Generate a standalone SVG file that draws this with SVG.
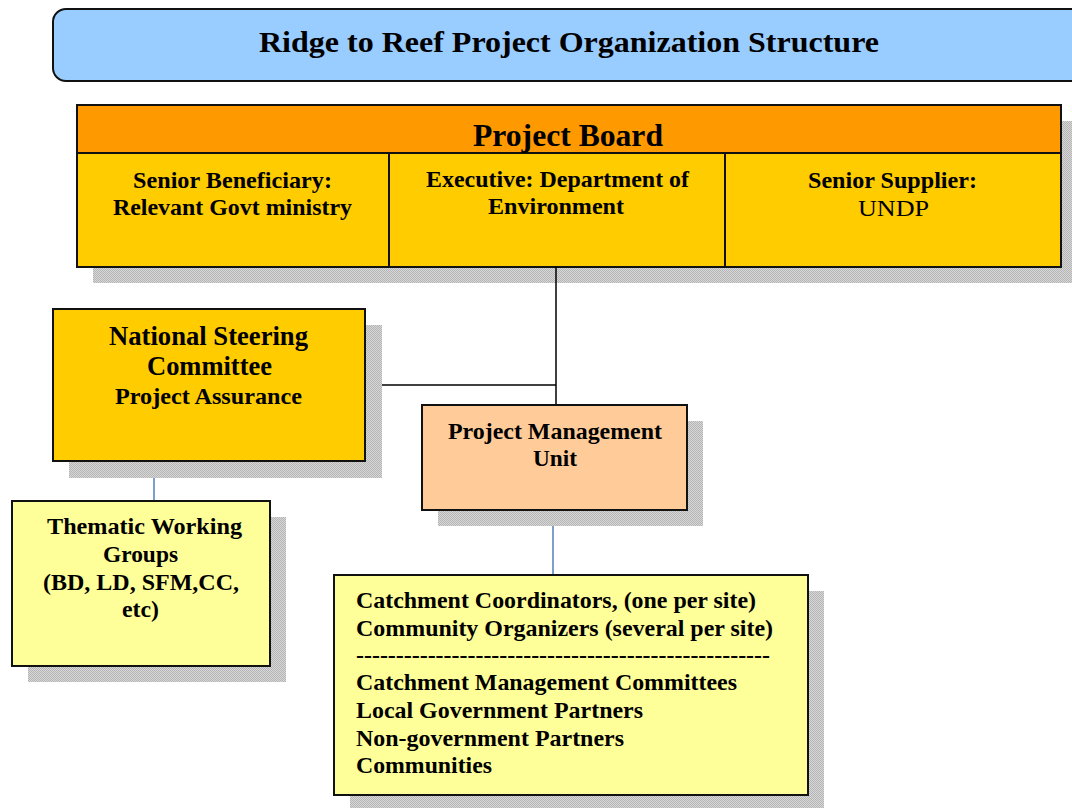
<svg xmlns="http://www.w3.org/2000/svg" width="1072" height="808" viewBox="0 0 1072 808">
<defs>
<pattern id="hatch" width="2" height="2" patternUnits="userSpaceOnUse">
<rect width="2" height="2" fill="#d8d8d8"/>
<rect width="1" height="1" fill="#b4b4b4"/>
<rect x="1" y="1" width="1" height="1" fill="#b4b4b4"/>
</pattern>
</defs>
<style>
text{font-family:"Liberation Serif","Times New Roman",serif;font-weight:bold;fill:#000;}
.c{text-anchor:middle;}
.n{font-weight:normal;}
.box{stroke:#111;stroke-width:2;}
.sh{fill:url(#hatch);}
.blk{stroke:#000;stroke-width:1.5;fill:none;}
.blue{stroke:#4f81bd;stroke-width:1.5;fill:none;}
</style>
<rect width="1072" height="808" fill="#fff"/>
<g id="title">
<rect x="53" y="9" width="1040" height="72" rx="13" ry="13" fill="#99ccff" class="box"/>
<text x="569" y="52" class="c" font-size="30" textLength="620" lengthAdjust="spacingAndGlyphs">Ridge to Reef Project Organization Structure</text>
</g>
<g id="project-board">
<rect x="93" y="121" width="990" height="162" class="sh"/>
<rect x="77" y="105" width="984" height="48" fill="#ff9900" class="box"/>
<rect x="77" y="153" width="984" height="114" fill="#ffcc00" class="box"/>
<line x1="389" y1="153" x2="389" y2="267" class="box"/>
<line x1="725" y1="153" x2="725" y2="267" class="box"/>
<text x="568" y="146" class="c" font-size="32" textLength="190" lengthAdjust="spacingAndGlyphs">Project Board</text>
<text x="232.5" y="188" class="c" font-size="23" textLength="199" lengthAdjust="spacingAndGlyphs">Senior Beneficiary:</text>
<text x="232.5" y="215" class="c" font-size="23" textLength="239" lengthAdjust="spacingAndGlyphs">Relevant Govt ministry</text>
<text x="557.5" y="187" class="c" font-size="23" textLength="263" lengthAdjust="spacingAndGlyphs">Executive: Department of</text>
<text x="556" y="214" class="c" font-size="23" textLength="136" lengthAdjust="spacingAndGlyphs">Environment</text>
<text x="892.5" y="188" class="c" font-size="23" textLength="169" lengthAdjust="spacingAndGlyphs">Senior Supplier:</text>
<text x="893.5" y="216" class="c n" font-size="24" textLength="71" lengthAdjust="spacingAndGlyphs">UNDP</text>
</g>
<g id="connectors">
<polyline points="556,267 556,405" class="blk"/>
<polyline points="365,385 556,385" class="blk"/>
<line x1="154" y1="462" x2="154" y2="501" class="blue"/>
<line x1="553" y1="501" x2="553" y2="575" class="blue"/>
</g>
<g id="nsc">
<rect x="69" y="325" width="313" height="153" class="sh"/>
<rect x="53" y="309" width="312" height="152" fill="#ffcc00" class="box"/>
<text x="208.5" y="345" class="c" font-size="27" textLength="199" lengthAdjust="spacingAndGlyphs">National Steering</text>
<text x="209.5" y="375" class="c" font-size="27" textLength="125" lengthAdjust="spacingAndGlyphs">Committee</text>
<text x="208.5" y="404" class="c" font-size="24" textLength="187" lengthAdjust="spacingAndGlyphs">Project Assurance</text>
</g>
<g id="pmu">
<rect x="438" y="421" width="265" height="105" class="sh"/>
<rect x="422" y="405" width="265" height="105" fill="#ffcc99" class="box"/>
<text x="555" y="439" class="c" font-size="24" textLength="214" lengthAdjust="spacingAndGlyphs">Project Management</text>
<text x="555" y="466" class="c" font-size="24" textLength="44" lengthAdjust="spacingAndGlyphs">Unit</text>
</g>
<g id="twg">
<rect x="28" y="517" width="258" height="165" class="sh"/>
<rect x="12" y="501" width="258" height="165" fill="#ffff99" class="box"/>
<text x="144.5" y="534" class="c" font-size="24" textLength="195" lengthAdjust="spacingAndGlyphs">Thematic Working</text>
<text x="140.5" y="562" class="c" font-size="24" textLength="75" lengthAdjust="spacingAndGlyphs">Groups</text>
<text x="141" y="590" class="c" font-size="24" textLength="196" lengthAdjust="spacingAndGlyphs">(BD, LD, SFM,CC,</text>
<text x="140.5" y="617" class="c" font-size="24" textLength="37" lengthAdjust="spacingAndGlyphs">etc)</text>
</g>
<g id="catchment">
<rect x="350" y="591" width="474" height="230" class="sh"/>
<rect x="334" y="575" width="474" height="220" fill="#ffff99" class="box"/>
<text x="356" y="608" font-size="23" textLength="400" lengthAdjust="spacingAndGlyphs">Catchment Coordinators, (one per site)</text>
<text x="356" y="636" font-size="23" textLength="417" lengthAdjust="spacingAndGlyphs">Community Organizers (several per site)</text>
<text x="356" y="663" font-size="23" textLength="414" lengthAdjust="spacingAndGlyphs">----------------------------------------------------</text>
<text x="356" y="690" font-size="23" textLength="381" lengthAdjust="spacingAndGlyphs">Catchment Management Committees</text>
<text x="356" y="718" font-size="23" textLength="287" lengthAdjust="spacingAndGlyphs">Local Government Partners</text>
<text x="356" y="746" font-size="23" textLength="268" lengthAdjust="spacingAndGlyphs">Non-government Partners</text>
<text x="356" y="773" font-size="23" textLength="136" lengthAdjust="spacingAndGlyphs">Communities</text>
</g>
</svg>
